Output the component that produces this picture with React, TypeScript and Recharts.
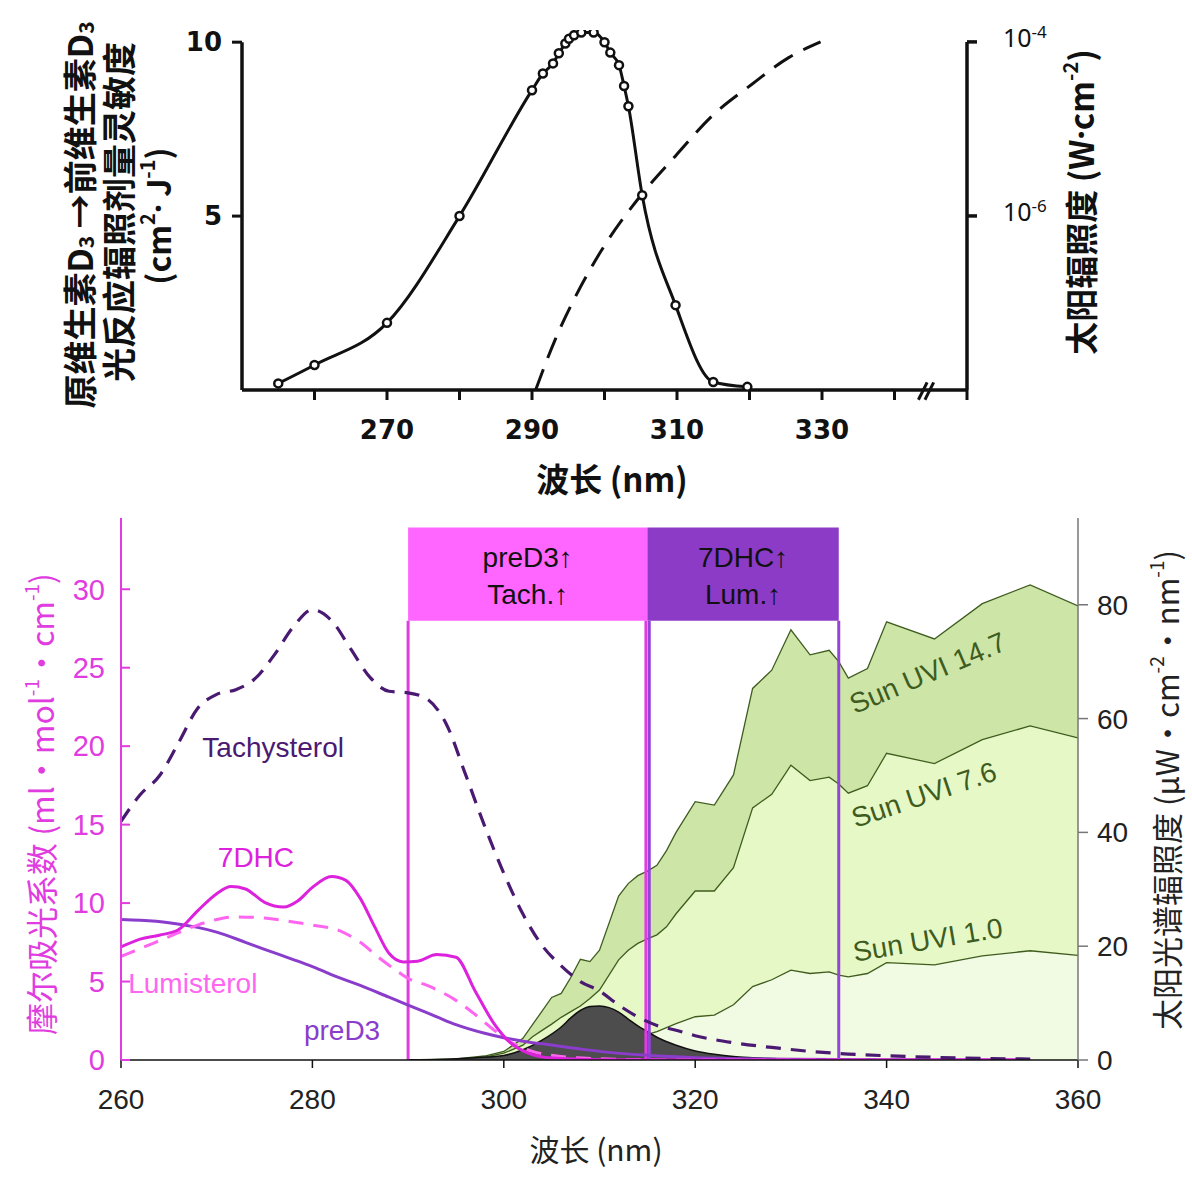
import React from "react";
import {
  Area,
  ComposedChart,
  Line,
  ReferenceArea,
  ReferenceDot,
  ReferenceLine,
  XAxis,
  YAxis,
} from "recharts";

// ---- top panel: previtamin D3 action spectrum + solar irradiance (log) ----
const actionNm = [255, 260, 270, 280, 290, 291.5, 292.9, 293.7, 294.6, 295.1, 295.8, 296.8, 298.5, 300, 300.8, 302, 302.7, 303.3, 305.2, 309.8, 315, 319.7];
const actionSens = [0.19, 0.72, 1.93, 5.0, 8.62, 9.1, 9.39, 9.68, 9.96, 10.1, 10.2, 10.28, 10.28, 10.0, 9.7, 9.34, 8.74, 8.16, 5.6, 2.44, 0.23, 0.09];
const solarNm = [290.5, 293.2, 295.8, 299.4, 305.2, 309.8, 315, 320.2, 325.4, 329.8];
const solarIrr = [1.0e-8, 3.8e-8, 1.1e-7, 3.8e-7, 1.8e-6, 4.9e-6, 1.45e-5, 3.2e-5, 6.6e-5, 1.0e-4];
const topTicks = [260, 270, 280, 290, 300, 310, 320, 330, 340, 350];
const topTickLabels = [270, 290, 310, 330];

// ---- bottom panel: absorption spectra (left) + sun spectra (right) ----
const tachNm = [260, 262, 264, 266, 268, 270, 272, 274, 276, 278, 280, 282, 284, 286, 288, 290, 292, 294, 296, 298, 300, 302, 304, 306, 308, 310, 312, 314, 316, 318, 320, 324, 328, 332, 336, 340, 345, 350, 355];
const tachAbs = [15.2, 16.9, 18.1, 20.2, 22.4, 23.3, 23.6, 24.3, 25.8, 27.6, 28.7, 28.0, 26.2, 24.4, 23.5, 23.4, 23.0, 21.4, 18.2, 14.9, 11.9, 9.3, 7.3, 6.0, 5.0, 4.4, 3.5, 2.75, 2.2, 1.9, 1.55, 1.1, 0.8, 0.55, 0.38, 0.27, 0.17, 0.1, 0.06];

const dhcNm = [260, 262, 264, 266, 268, 270, 271.5, 273, 275, 277, 278.5, 280, 282, 283.5, 285, 286.5, 288, 289.5, 291, 293, 295, 297, 299, 300.5, 302.5, 305, 310, 320, 340, 355];
const dhcAbs = [7.2, 7.7, 7.95, 8.3, 9.5, 10.6, 11.05, 10.9, 10.05, 9.75, 10.15, 11.0, 11.7, 11.45, 10.3, 8.5, 6.8, 6.25, 6.3, 6.72, 6.55, 4.4, 2.3, 1.2, 0.45, 0.12, 0.02, 0, 0, 0];

const lumiNm = [260, 262, 265, 268, 270, 272, 275, 278, 280, 283, 285, 287, 289, 290, 292, 295, 297, 299, 301, 303, 305, 310, 315, 320, 355];
const lumiAbs = [6.6, 7.1, 7.85, 8.6, 8.95, 9.12, 9.05, 8.8, 8.6, 8.2, 7.5, 6.5, 5.6, 5.2, 4.75, 3.8, 2.9, 1.9, 1.05, 0.55, 0.3, 0.08, 0.02, 0, 0];

const pred3Nm = [260, 262, 265, 268, 270, 273, 275, 278, 280, 283, 285, 288, 290, 293, 295, 298, 300, 302, 305, 308, 310, 315, 320, 325, 330, 340, 355];
const pred3Abs = [8.95, 8.9, 8.75, 8.45, 8.15, 7.5, 7.05, 6.4, 5.95, 5.2, 4.75, 4.0, 3.5, 2.75, 2.25, 1.7, 1.42, 1.2, 0.95, 0.7, 0.55, 0.3, 0.15, 0.08, 0.04, 0.01, 0];

const sunNm = [290, 295, 298, 300, 302, 303, 304, 305, 306, 307, 308, 309, 310, 312, 313, 314, 315, 316, 317, 318, 320, 322, 324, 326, 328, 330, 332, 334, 335, 336, 338, 340, 345, 350, 355, 360];
const uvi147 = [0, 0.2, 0.7, 1.5, 3.8, 6.2, 8.6, 11.0, 11.7, 14.5, 17.7, 17.3, 19.3, 28.8, 31.0, 32.4, 33.2, 34.2, 36.8, 40.0, 45.4, 44.8, 50.1, 65.3, 68.5, 75.6, 71.2, 72.0, 70.0, 67.1, 68.8, 77.0, 74.0, 80.2, 83.5, 79.8];
const uvi76 = [0, 0.1, 0.5, 1.2, 2.6, 4.1, 5.2, 6.3, 7.5, 8.5, 9.5, 10.8, 12.3, 17.6, 19.3, 20.5, 21.3, 22.0, 23.4, 25.7, 29.7, 29.7, 33.8, 44.3, 46.7, 51.8, 49.1, 49.7, 48.5, 46.9, 48.2, 53.9, 52.1, 56.3, 58.7, 56.6];
const uvi10 = [0, 0.05, 0.1, 0.2, 0.4, 0.6, 0.9, 1.2, 1.5, 1.8, 2.1, 2.4, 2.6, 3.2, 3.6, 4.1, 4.5, 5.0, 5.7, 6.4, 7.6, 7.9, 9.7, 12.9, 14.1, 15.8, 15.2, 15.5, 14.9, 14.6, 15.2, 17.1, 16.7, 18.3, 19.2, 18.4];

// effective (weighted) irradiance, dark area
const effNm = [290, 294, 297, 300, 302, 304, 306, 307, 308, 309, 310, 311, 312, 313, 314, 315, 316, 318, 320, 322, 324, 326, 328, 330, 335, 340];
const effVal = [0, 0.15, 0.4, 0.8, 1.8, 3.5, 5.8, 7.4, 8.7, 9.4, 9.5, 9.2, 8.4, 7.2, 6.0, 5.0, 4.0, 2.6, 1.6, 1.0, 0.6, 0.4, 0.25, 0.15, 0.05, 0];

const pts = (xs: number[], ys: number[]) => xs.map((nm, i) => ({ nm, v: ys[i] }));

const MAG = "#E03CE0";
const CJK = "'Noto Sans CJK SC', 'Noto Sans', sans-serif";
const SANS = "'Liberation Sans', Arial, sans-serif";
const BOLD = "'DejaVu Sans', sans-serif";

function PowTick(props: any) {
  const { x, y, payload } = props;
  const exp = Math.round(Math.log10(payload.value));
  return (
    <text x={x} y={y} dy="0.2em" textAnchor="start" fill="#111" fontFamily="'Noto Sans', sans-serif" fontSize={25}>
      <tspan>10</tspan>
      <tspan dy="-0.55em" fontSize={17}>{exp}</tspan>
    </text>
  );
}

const note =
  (text: string, color: string, size: number, angle = 0) =>
  (props: any) => {
    const vb = props.viewBox || { x: props.x, y: props.y, width: 0, height: 0 };
    const cx = vb.x + vb.width / 2;
    const cy = vb.y + vb.height / 2;
    return (
      <text
        x={cx}
        y={cy}
        transform={angle ? `rotate(${angle} ${cx} ${cy})` : undefined}
        textAnchor="middle"
        dominantBaseline="central"
        fill={color}
        fontSize={size}
        fontFamily={SANS}
      >
        {text}
      </text>
    );
  };

const boxText = (l1: string, l2: string) => (props: any) => {
  const { x, y, width, height } = props.viewBox;
  const cx = x + width / 2;
  const cy = y + height / 2;
  return (
    <g fontFamily={SANS} fontSize={28} fill="#111" textAnchor="middle">
      <text x={cx} y={cy - 17} dominantBaseline="central">{l1}</text>
      <text x={cx} y={cy + 20} dominantBaseline="central">{l2}</text>
    </g>
  );
};

function TopChart() {
  const boldTick = { fontSize: 26, fontWeight: 700, fill: "#111", fontFamily: BOLD };
  return (
    <ComposedChart width={1192} height={500} margin={{ top: 30, right: 165, bottom: 60, left: 182 }}>
      <XAxis
        dataKey="nm"
        type="number"
        domain={[250, 350]}
        ticks={topTicks}
        tickFormatter={(v: number) => (topTickLabels.includes(v) ? String(v) : "")}
        height={50}
        tickSize={10}
        tickMargin={21}
        axisLine={{ stroke: "#111", strokeWidth: 3.5 }}
        tickLine={{ stroke: "#111", strokeWidth: 3 }}
        tick={boldTick}
      />
      <YAxis
        yAxisId="left"
        domain={[0, 10.35]}
        ticks={[5, 10]}
        width={60}
        tickSize={10}
        tickMargin={10}
        axisLine={false}
        tickLine={{ stroke: "#111", strokeWidth: 3 }}
        tick={{ ...boldTick, fontSize: 26 }}
        allowDataOverflow
      />
      <YAxis
        yAxisId="right"
        orientation="right"
        scale="log"
        domain={[1e-8, 1.37e-4]}
        ticks={[1e-6, 1e-4]}
        width={60}
        tickSize={10}
        tickMargin={26}
        axisLine={false}
        tickLine={{ stroke: "#111", strokeWidth: 3.5 }}
        tick={<PowTick />}
        allowDataOverflow
      />
      <ReferenceLine yAxisId="left" segment={[{ x: 250, y: 0 }, { x: 250, y: 10 }]} stroke="#111" strokeWidth={3.5} ifOverflow="visible" />
      <ReferenceLine yAxisId="right" segment={[{ x: 350, y: 1e-8 }, { x: 350, y: 1e-4 }]} stroke="#111" strokeWidth={3.5} ifOverflow="visible" />
      <ReferenceLine yAxisId="left" segment={[{ x: 343.3, y: -0.28 }, { x: 344.5, y: 0.22 }]} stroke="#111" strokeWidth={3} ifOverflow="visible" />
      <ReferenceLine yAxisId="left" segment={[{ x: 344.2, y: -0.28 }, { x: 345.4, y: 0.22 }]} stroke="#111" strokeWidth={3} ifOverflow="visible" />
      <Line
        yAxisId="right"
        data={pts(solarNm, solarIrr)}
        dataKey="v"
        type="monotone"
        stroke="#111"
        strokeWidth={3}
        strokeDasharray="22 12"
        dot={false}
        isAnimationActive={false}
      />
      <Line
        yAxisId="left"
        data={pts(actionNm, actionSens)}
        dataKey="v"
        type="monotone"
        stroke="#111"
        strokeWidth={3}
        dot={{ r: 4, fill: "#fff", stroke: "#111", strokeWidth: 2.5 }}
        isAnimationActive={false}
      />
    </ComposedChart>
  );
}

function BottomChart() {
  const green = "#3F5C1F";
  return (
    <ComposedChart width={1192} height={677} margin={{ top: 18, right: 0, bottom: 57, left: 0 }}>
      <XAxis
        dataKey="nm"
        type="number"
        domain={[260, 360]}
        ticks={[260, 280, 300, 320, 340, 360]}
        height={60}
        tickSize={8}
        tickMargin={21}
        axisLine={{ stroke: "#111", strokeWidth: 1.5 }}
        tickLine={{ stroke: "#111", strokeWidth: 1.5 }}
        tick={{ fontSize: 28, fill: "#222", fontFamily: SANS }}
        allowDataOverflow
      />
      <YAxis
        yAxisId="left"
        domain={[0, 34.54]}
        ticks={[0, 5, 10, 15, 20, 25, 30]}
        width={121}
        tickSize={-9}
        tickMargin={25}
        axisLine={{ stroke: MAG, strokeWidth: 2 }}
        tickLine={{ stroke: MAG, strokeWidth: 2 }}
        tick={{ fontSize: 29, fill: MAG, fontFamily: SANS }}
        allowDataOverflow
      />
      <YAxis
        yAxisId="right"
        orientation="right"
        domain={[0, 95.25]}
        ticks={[0, 20, 40, 60, 80]}
        width={114}
        tickSize={10}
        tickMargin={9}
        axisLine={{ stroke: "#777", strokeWidth: 1.5 }}
        tickLine={{ stroke: "#777", strokeWidth: 1.5 }}
        tick={{ fontSize: 28, fill: "#222", fontFamily: SANS }}
        allowDataOverflow
      />

      <Area yAxisId="right" data={pts(sunNm, uvi147)} dataKey="v" type="linear" stroke={green} strokeWidth={1.3} fill="#CDE6A8" fillOpacity={1} isAnimationActive={false} />
      <Area yAxisId="right" data={pts(sunNm, uvi76)} dataKey="v" type="linear" stroke={green} strokeWidth={1.3} fill="#E6F8C6" fillOpacity={1} isAnimationActive={false} />
      <Area yAxisId="right" data={pts(sunNm, uvi10)} dataKey="v" type="linear" stroke={green} strokeWidth={1.3} fill="#F1FAE2" fillOpacity={1} isAnimationActive={false} />
      <Area yAxisId="right" data={pts(effNm, effVal)} dataKey="v" type="monotone" stroke="#111" strokeWidth={1.5} fill="#4D4D4D" fillOpacity={1} isAnimationActive={false} />

      <ReferenceArea yAxisId="left" x1={290} x2={315} y1={28.0} y2={33.93} fill="#FF66FF" fillOpacity={1} stroke="none" label={boxText("preD3↑", "Tach.↑")} />
      <ReferenceArea yAxisId="left" x1={315} x2={335} y1={28.0} y2={33.93} fill="#8B3BC6" fillOpacity={1} stroke="none" label={boxText("7DHC↑", "Lum.↑")} />
      <ReferenceLine yAxisId="left" segment={[{ x: 290, y: 0 }, { x: 290, y: 28 }]} stroke={MAG} strokeWidth={3} />
      <ReferenceLine yAxisId="left" segment={[{ x: 314.85, y: 0 }, { x: 314.85, y: 28 }]} stroke={MAG} strokeWidth={3} />
      <ReferenceLine yAxisId="left" segment={[{ x: 315.2, y: 0 }, { x: 315.2, y: 28 }]} stroke="#9444D8" strokeWidth={3} />
      <ReferenceLine yAxisId="left" segment={[{ x: 335, y: 0 }, { x: 335, y: 28 }]} stroke="#9444D8" strokeWidth={3} />

      <Line yAxisId="left" data={pts(pred3Nm, pred3Abs)} dataKey="v" type="monotone" stroke="#8A3CCB" strokeWidth={3} dot={false} isAnimationActive={false} />
      <Line yAxisId="left" data={pts(lumiNm, lumiAbs)} dataKey="v" type="monotone" stroke="#FF66F0" strokeWidth={3} strokeDasharray="15 10" dot={false} isAnimationActive={false} />
      <Line yAxisId="left" data={pts(dhcNm, dhcAbs)} dataKey="v" type="monotone" stroke="#DD22DD" strokeWidth={3} dot={false} isAnimationActive={false} />
      <Line yAxisId="left" data={pts(tachNm, tachAbs)} dataKey="v" type="monotone" stroke="#4A1A72" strokeWidth={3.2} strokeDasharray="15 10" dot={false} isAnimationActive={false} />

      <ReferenceDot yAxisId="left" x={275.9} y={19.9} r={1} fill="none" stroke="none" label={note("Tachysterol", "#4A1A72", 28)} />
      <ReferenceDot yAxisId="left" x={274.1} y={12.9} r={1} fill="none" stroke="none" label={note("7DHC", "#DD22DD", 28)} />
      <ReferenceDot yAxisId="left" x={267.5} y={4.9} r={1} fill="none" stroke="none" label={note("Lumisterol", "#FF66F0", 28)} />
      <ReferenceDot yAxisId="left" x={283.1} y={1.9} r={1} fill="none" stroke="none" label={note("preD3", "#8A3CCB", 28)} />
      <ReferenceDot yAxisId="right" x={344.3} y={68.0} r={1} fill="none" stroke="none" label={note("Sun UVI 14.7", green, 28, -23)} />
      <ReferenceDot yAxisId="right" x={343.9} y={46.6} r={1} fill="none" stroke="none" label={note("Sun UVI 7.6", green, 28, -18.7)} />
      <ReferenceDot yAxisId="right" x={344.3} y={21.1} r={1} fill="none" stroke="none" label={note("Sun UVI 1.0", green, 28, -9.5)} />
    </ComposedChart>
  );
}

function Titles() {
  return (
    <svg width={1192} height={1177} style={{ position: "absolute", left: 0, top: 0, pointerEvents: "none" }}>
      <g fontFamily={CJK} fontWeight={700} fill="#111" fontSize={34} textAnchor="middle" dominantBaseline="central">
        <text x={78} y={215} transform="rotate(-90 78 215)">
          原维生素D<tspan dy={7} fontSize={21}>3</tspan>
          <tspan dy={-7}> →前维生素D</tspan>
          <tspan dy={7} fontSize={21}>3</tspan>
        </text>
        <text x={117} y={212} transform="rotate(-90 117 212)">光反应辐照剂量灵敏度</text>
        <text x={157} y={216} fontSize={32} transform="rotate(-90 157 216)">
          (cm<tspan dy={-11} fontSize={20}>2</tspan>
          <tspan dy={11} fontFamily="'Noto Sans', sans-serif">·</tspan>
          <tspan> J</tspan>
          <tspan dy={-11} fontSize={20}>-1</tspan>
          <tspan dy={11}>)</tspan>
        </text>
        <text x={1080} y={202} fontSize={33} transform="rotate(-90 1080 202)">
          太阳辐照度 (W<tspan fontFamily="'Noto Sans', sans-serif">·</tspan>cm<tspan dy={-11} fontSize={20}>-2</tspan>
          <tspan dy={11}>)</tspan>
        </text>
        <text x={612} y={478} fontSize={33}>波长 (nm)</text>
      </g>
      <g fontFamily={CJK} fontSize={31} textAnchor="middle" dominantBaseline="central">
        <text x={40} y={804} fill={MAG} fontSize={32} transform="rotate(-90 40 804)">
          摩尔吸光系数 (ml·mol<tspan dy={-10} fontSize={19}>-1</tspan>
          <tspan dy={10}>·cm</tspan>
          <tspan dy={-10} fontSize={19}>-1</tspan>
          <tspan dy={10}>)</tspan>
        </text>
        <text x={1165} y={790} fill="#222" transform="rotate(-90 1165 790)">
          太阳光谱辐照度 (μW·cm<tspan dy={-10} fontSize={19}>-2</tspan>
          <tspan dy={10}>·nm</tspan>
          <tspan dy={-10} fontSize={19}>-1</tspan>
          <tspan dy={10}>)</tspan>
        </text>
        <text x={596} y={1148} fill="#222" fontSize={30}>波长 (nm)</text>
      </g>
    </svg>
  );
}

export default function App() {
  return (
    <div style={{ position: "absolute", left: 0, top: 0, width: 1192, height: 1177, background: "#fff" }}>
      <div style={{ position: "absolute", left: 0, top: 0 }}>
        <TopChart />
      </div>
      <div style={{ position: "absolute", left: 0, top: 500 }}>
        <BottomChart />
      </div>
      <Titles />
    </div>
  );
}
